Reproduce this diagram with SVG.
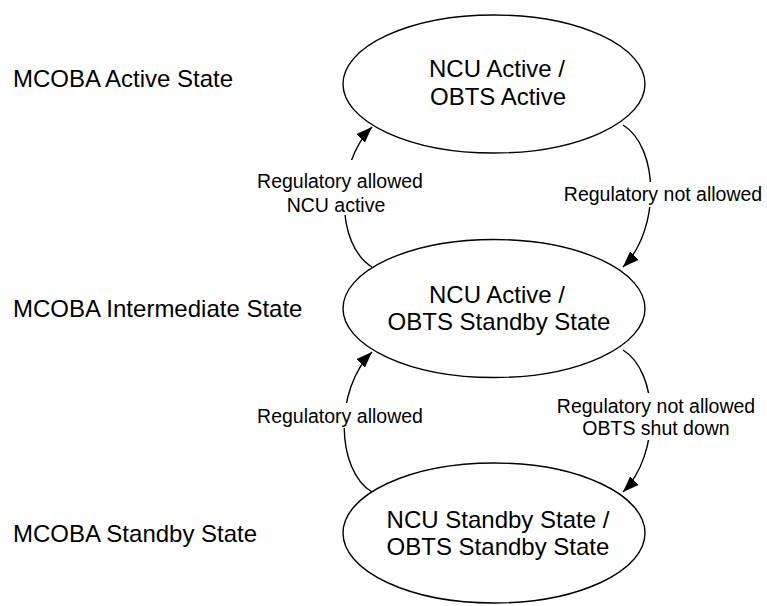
<svg xmlns="http://www.w3.org/2000/svg" width="767" height="606" viewBox="0 0 767 606">
<defs>
<style>
.node{fill:#fff;stroke:#000;stroke-width:1.4}
.big{font-family:"Liberation Sans",Arial,sans-serif;font-size:24px;fill:#000}
.lbl{font-family:"Liberation Sans",Arial,sans-serif;font-size:19.5px;fill:#000;text-anchor:middle}
.mid{text-anchor:middle}
.edge{fill:none;stroke:#000;stroke-width:1.4;marker-end:url(#arr)}
.bg{fill:#fff}
</style>
<marker id="arr" viewBox="0 0 16 12" refX="16" refY="6" markerWidth="16" markerHeight="12" markerUnits="userSpaceOnUse" orient="auto">
<path d="M0,0 L16,6 L0,12 Z" fill="#000"/>
</marker>
</defs>
<rect width="767" height="606" fill="#fff"/>
<g id="state-labels">
<text class="big" x="13" y="87">MCOBA Active State</text>
<text class="big" x="13" y="317">MCOBA Intermediate State</text>
<text class="big" x="13" y="542">MCOBA Standby State</text>
</g>
<g id="connectors">
<path class="edge" d="M372,267 C336,245 334,165 372,127"/>
<path class="edge" d="M623,125 C659,147 661,229 623,267"/>
<path class="edge" d="M372,492 C336,470 334,390 372,352"/>
<path class="edge" d="M623,350 C659,372 661,454 623,492"/>
<g id="edge-labels">
<rect class="bg" x="255" y="160" width="170" height="55"/>
<text class="lbl" x="340" y="188">Regulatory allowed</text>
<text class="lbl" x="336" y="212">NCU active</text>
<rect class="bg" x="563" y="182" width="200" height="25"/>
<text class="lbl" x="663" y="201">Regulatory not allowed</text>
<rect class="bg" x="255" y="403" width="170" height="25"/>
<text class="lbl" x="340" y="423">Regulatory allowed</text>
<rect class="bg" x="555" y="393" width="202" height="47"/>
<text class="lbl" x="656" y="413">Regulatory not allowed</text>
<text class="lbl" x="656" y="435">OBTS shut down</text>
</g>
</g>
<g id="node-active">
<ellipse class="node" cx="494" cy="84" rx="151" ry="69"/>
<text class="big mid" x="497" y="77">NCU Active /</text>
<text class="big mid" x="498" y="105">OBTS Active</text>
</g>
<g id="node-intermediate">
<ellipse class="node" cx="494" cy="308.5" rx="151" ry="69"/>
<text class="big mid" x="497" y="303">NCU Active /</text>
<text class="big mid" x="499" y="330">OBTS Standby State</text>
</g>
<g id="node-standby">
<ellipse class="node" cx="494" cy="533" rx="151" ry="70"/>
<text class="big mid" x="498" y="528">NCU Standby State /</text>
<text class="big mid" x="498" y="555">OBTS Standby State</text>
</g>
</svg>
